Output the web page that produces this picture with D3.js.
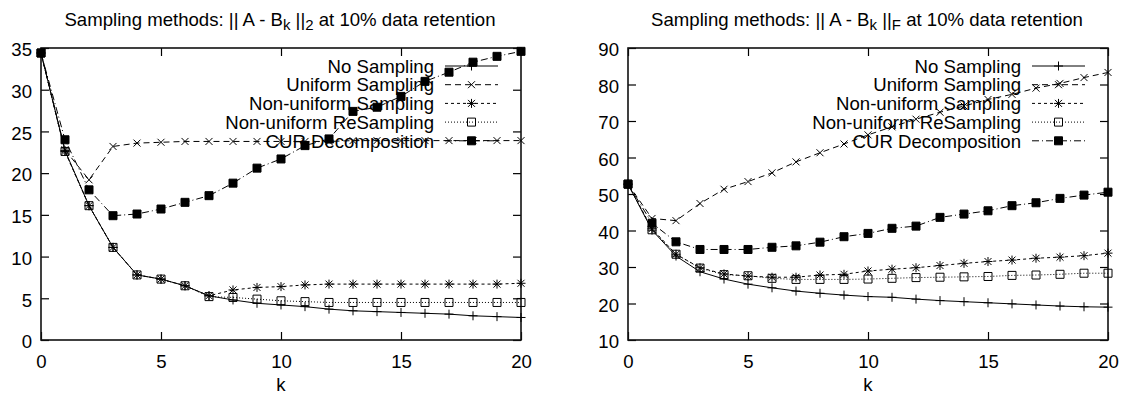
<!DOCTYPE html>
<html><head><meta charset="utf-8">
<script src="https://cdn.jsdelivr.net/npm/d3@7"></script>
<style>
body{margin:0;background:#fff;}
text{font-family:"Liberation Sans",Arial,sans-serif;fill:#000;}
</style></head>
<body><svg id="c" width="1122" height="394"></svg>
<script>
const kValues = [0,1,2,3,4,5,6,7,8,9,10,11,12,13,14,15,16,17,18,19,20];
const seriesNames = ["No Sampling","Uniform Sampling","Non-uniform Sampling","Non-uniform ReSampling","CUR Decomposition"];
const xTicks = [0,5,10,15,20];
const yTicks2 = [0,5,10,15,20,25,30,35];
const yTicksF = [10,20,30,40,50,60,70,80,90];

// Left chart: || A - B_k ||_2
const noSampling2  = [34.4,22.7,16.1,11.1,7.8,7.3,6.5,5.3,4.8,4.4,4.2,4.0,3.7,3.5,3.4,3.3,3.2,3.1,2.9,2.8,2.7];
const uniform2     = [34.4,22.8,19.2,23.2,23.6,23.7,23.8,23.8,23.8,23.8,23.8,23.8,23.8,23.9,23.9,23.9,23.9,23.9,23.9,23.9,23.9];
const nonUniform2  = [34.4,22.6,16.1,11.1,7.8,7.3,6.5,5.3,6.0,6.3,6.4,6.6,6.7,6.7,6.7,6.7,6.7,6.7,6.7,6.7,6.8];
const reSampling2  = [34.4,22.6,16.1,11.1,7.8,7.3,6.5,5.2,5.1,4.9,4.7,4.6,4.5,4.5,4.5,4.5,4.5,4.5,4.5,4.5,4.5];
const cur2         = [34.4,24.0,18.0,14.9,15.1,15.7,16.5,17.3,18.8,20.6,21.7,23.3,24.1,27.4,27.9,29.2,31.0,32.1,33.3,34.0,34.6];

// Right chart: || A - B_k ||_F
const noSamplingF  = [52.7,40.1,33.0,28.7,26.7,25.3,24.3,23.4,22.8,22.3,21.9,21.7,21.2,20.8,20.5,20.2,19.9,19.6,19.3,19.1,19.0];
const uniformF     = [52.7,43.3,42.7,47.4,51.3,53.4,55.8,58.8,61.3,63.7,66.2,68.4,70.5,72.4,74.1,75.9,77.3,79.0,80.3,81.9,83.3];
const nonUniformF  = [52.7,40.5,33.5,29.8,28.1,27.5,27.2,27.2,27.8,28.0,28.9,29.4,29.8,30.4,31.0,31.5,31.9,32.4,32.7,33.1,33.8];
const reSamplingF  = [52.7,40.2,33.5,29.7,27.9,27.6,26.9,26.6,26.6,26.6,26.7,26.9,27.1,27.2,27.3,27.4,27.7,27.8,28.0,28.3,28.3];
const curF         = [52.7,42.0,36.9,34.8,34.8,34.8,35.4,35.8,36.8,38.3,39.2,40.6,41.2,43.6,44.5,45.4,46.8,47.6,48.8,49.7,50.5];

const dashes = [null,"6,4","3,3","1,2","7,3,1,3"];
const markers = ["plus","cross","star","box","filled"];

function markerPath(t){
  const a=4.5, b=3.5;
  const plus=`M${-a},0H${a}M0,${-a}V${a}`;
  const cross=`M${-b},${-b}L${b},${b}M${-b},${b}L${b},${-b}`;
  if(t==="plus") return plus;
  if(t==="cross") return cross;
  if(t==="star") return plus+cross;
  const s=4;
  return `M${-s},${-s}H${s}V${s}H${-s}Z`;
}

const svg = d3.select("#c");
const F = 18.6;

function chart(opts){
  const {x0,x1,yDomain,yTicks,series,sub,titleCx} = opts;
  const x = d3.scaleLinear().domain([0,20]).range([x0,x1]);
  const y = d3.scaleLinear().domain(yDomain).range([340,48]);
  const g = svg.append("g");

  // title
  const t = g.append("text").attr("x",titleCx).attr("y",26).attr("text-anchor","middle").style("font-size",F+"px");
  t.append("tspan").text("Sampling methods: || A - B");
  t.append("tspan").attr("dy",4).style("font-size","15px").text("k");
  t.append("tspan").attr("dy",-4).text(" ||");
  t.append("tspan").attr("dy",4).style("font-size","15px").text(sub);
  t.append("tspan").attr("dy",-4).text(" at 10% data retention");

  // axes
  const axL = g.append("g").attr("transform",`translate(${x0},0)`)
    .call(d3.axisLeft(y).tickValues(yTicks).tickSizeInner(-8).tickSizeOuter(0).tickPadding(9));
  const axR = g.append("g").attr("transform",`translate(${x1},0)`)
    .call(d3.axisRight(y).tickValues(yTicks).tickSizeInner(-8).tickSizeOuter(0).tickFormat(""));
  const axB = g.append("g").attr("transform",`translate(0,340)`)
    .call(d3.axisBottom(x).tickValues(xTicks).tickSizeInner(-8).tickSizeOuter(0).tickPadding(15));
  const axT = g.append("g").attr("transform",`translate(0,48)`)
    .call(d3.axisTop(x).tickValues(xTicks).tickSizeInner(-8).tickSizeOuter(0).tickFormat(""));
  [axL,axR,axB,axT].forEach(a=>{
    a.select(".domain").remove();
    a.selectAll("line").attr("stroke","#000").attr("stroke-width",1.2);
    a.selectAll("text").style("font-size",F+"px").style("font-family","Liberation Sans, Arial, sans-serif");
  });
  axL.selectAll("text").attr("dy","0.42em");
  axB.selectAll("text").attr("dy","0.71em");

  g.append("rect").attr("x",x0).attr("y",48).attr("width",x1-x0).attr("height",292)
    .attr("fill","none").attr("stroke","#111").attr("stroke-width",1.6);

  g.append("text").attr("x",(x0+x1)/2).attr("y",391).attr("text-anchor","middle").style("font-size",F+"px").text("k");

  const line = d3.line().x((d,i)=>x(kValues[i])).y(d=>y(d));
  series.forEach((vals,si)=>{
    g.append("path").attr("d",line(vals)).attr("fill","none").attr("stroke","#000")
      .attr("stroke-width",1).attr("stroke-dasharray",dashes[si]);
    g.selectAll(null).data(vals).enter().append("path")
      .attr("transform",(d,i)=>`translate(${x(kValues[i])},${y(d)})`)
      .attr("d",markerPath(markers[si]))
      .attr("fill",markers[si]==="filled"?"#000":"none")
      .attr("stroke","#000").attr("stroke-width",1);
  });

  // legend
  const textRight = x1-87, lx0 = x1-76, lx1 = x1-23;
  seriesNames.forEach((name,si)=>{
    const cy = 66 + si*18.7;
    g.append("text").attr("x",textRight).attr("y",cy+6.7).attr("text-anchor","end").style("font-size",F+"px").text(name);
    g.append("line").attr("x1",lx0).attr("x2",lx1).attr("y1",cy).attr("y2",cy)
      .attr("stroke","#000").attr("stroke-width",1).attr("stroke-dasharray",dashes[si]);
    g.append("path").attr("transform",`translate(${(lx0+lx1)/2},${cy})`).attr("d",markerPath(markers[si]))
      .attr("fill",markers[si]==="filled"?"#000":"none").attr("stroke","#000");
  });
}

chart({x0:41,x1:521,yDomain:[0,35],yTicks:yTicks2,series:[noSampling2,uniform2,nonUniform2,reSampling2,cur2],sub:"2",titleCx:280});
chart({x0:628,x1:1108,yDomain:[10,90],yTicks:yTicksF,series:[noSamplingF,uniformF,nonUniformF,reSamplingF,curF],sub:"F",titleCx:867});
</script></body></html>
